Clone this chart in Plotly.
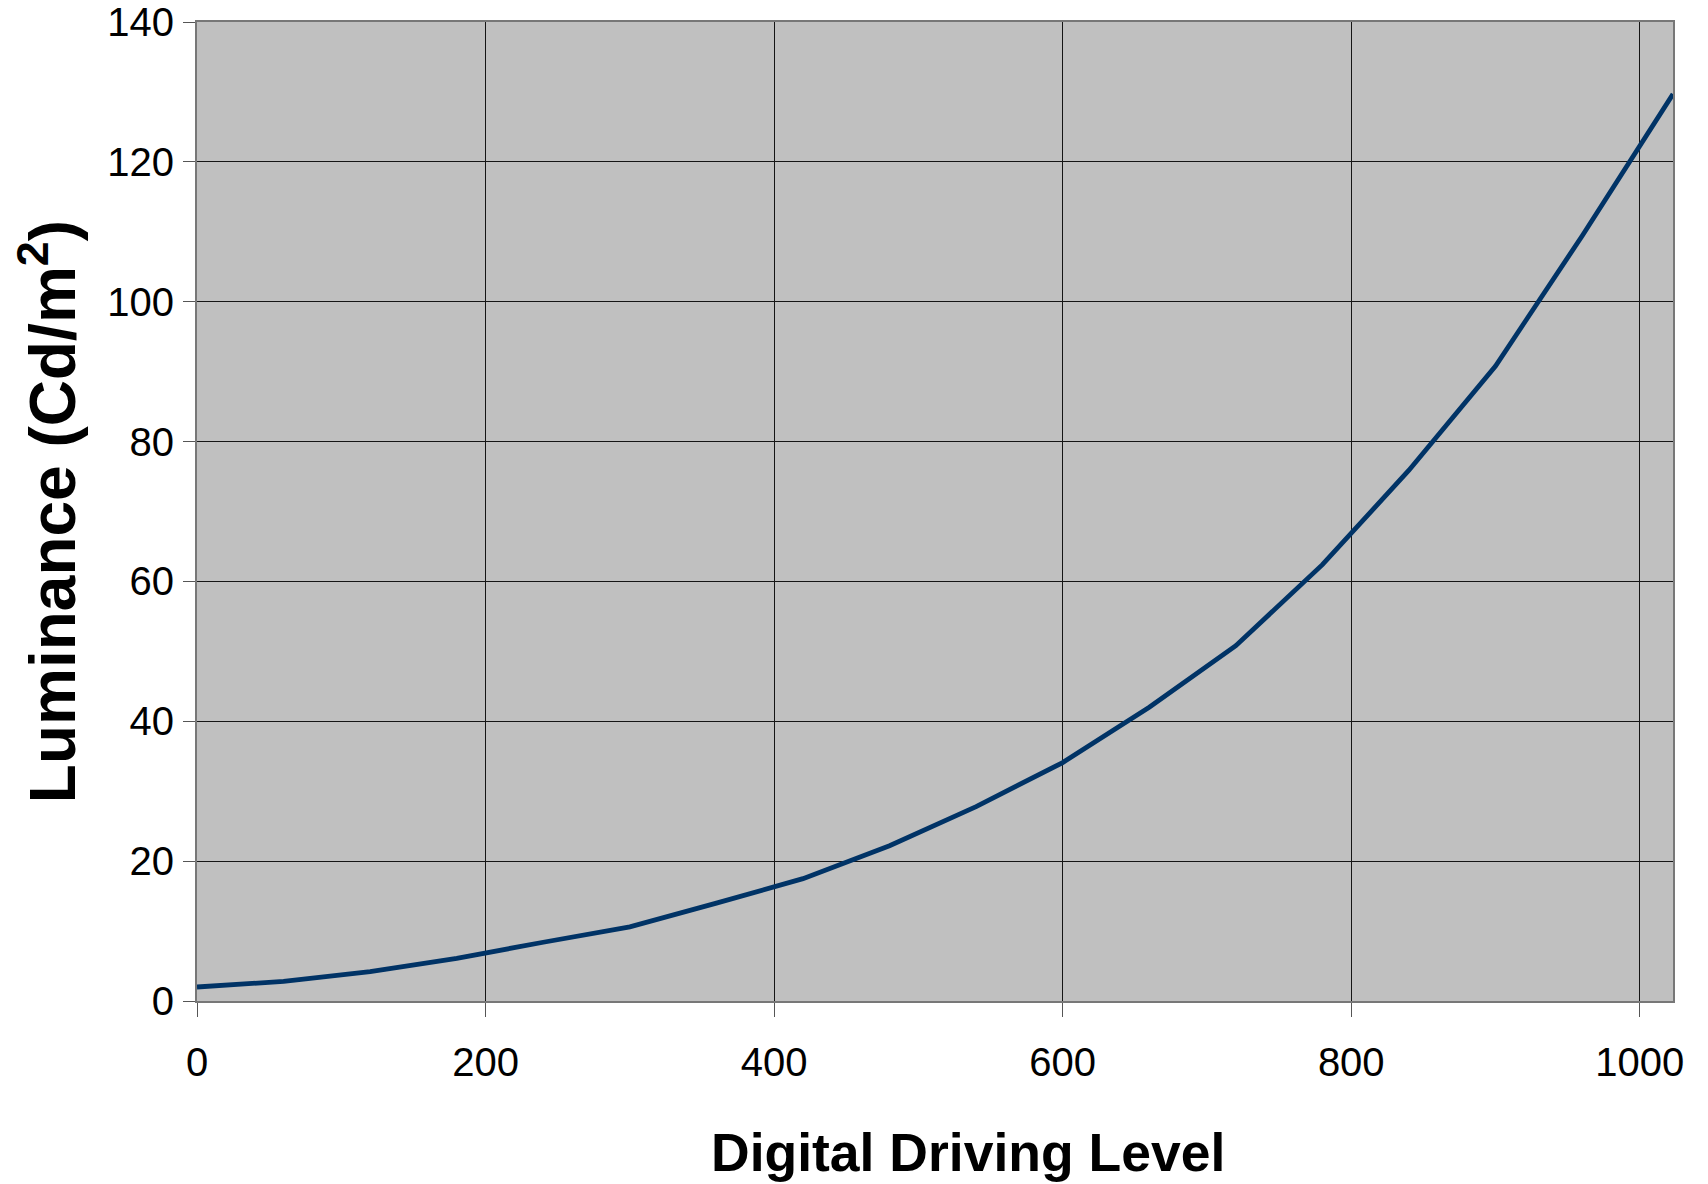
import plotly.graph_objects as go

# Luminance measured at each digital driving level (10-bit input)
driving_level = [0, 60, 120, 180, 240, 300, 360, 420, 480, 540, 600,
                 660, 720, 780, 840, 900, 960, 1023]
luminance = [2.0, 2.8, 4.2, 6.1, 8.4, 10.6, 14.0, 17.5, 22.2, 27.8, 34.1,
             42.0, 50.8, 62.4, 75.9, 90.8, 109.4, 129.7]

x_ticks = [0, 200, 400, 600, 800, 1000]
y_ticks = [0, 20, 40, 60, 80, 100, 120, 140]

FONT = "Liberation Sans, Arial, sans-serif"

fig = go.Figure(
    go.Scatter(
        x=driving_level,
        y=luminance,
        mode="lines",
        line=dict(color="#003366", width=4.8),
        showlegend=False,
        hoverinfo="x+y",
    )
)

fig.update_layout(
    width=1708,
    height=1184,
    margin=dict(l=197, r=35, t=22, b=183, autoexpand=False),
    paper_bgcolor="white",
    plot_bgcolor="#C0C0C0",
    font=dict(family=FONT, color="black"),
)

fig.update_xaxes(
    range=[0, 1023],
    tickvals=x_ticks,
    ticktext=[str(v) for v in x_ticks],
    tickfont=dict(size=40),
    ticks="outside",
    ticklen=14,
    tickcolor="#555555",
    tickwidth=1,
    ticklabelstandoff=11,
    showgrid=True,
    gridcolor="#151515",
    gridwidth=1,
    zeroline=False,
    showline=True,
    linecolor="#777777",
    linewidth=2,
    mirror=True,
)

fig.update_yaxes(
    range=[0, 140],
    tickvals=y_ticks,
    ticktext=[str(v) for v in y_ticks],
    tickfont=dict(size=40),
    ticks="outside",
    ticklen=12,
    tickcolor="#555555",
    tickwidth=1,
    ticklabelstandoff=1,
    showgrid=True,
    gridcolor="#151515",
    gridwidth=1,
    zeroline=False,
    showline=True,
    linecolor="#777777",
    linewidth=2,
    mirror=True,
)

# Axis titles placed as annotations relative to the plotting area
fig.add_annotation(
    text="<b>Digital Driving Level</b>",
    xref="paper", yref="paper",
    x=0.5224, y=-0.155,
    xanchor="center", yanchor="middle",
    showarrow=False,
    font=dict(size=53.5),
)
fig.add_annotation(
    text="<b>Luminance (Cd/m<sup>2</sup>)</b>",
    xref="paper", yref="paper",
    x=-0.1012, y=0.5,
    xanchor="center", yanchor="middle",
    textangle=-90,
    showarrow=False,
    font=dict(size=64),
)

fig.write_html("out.html")
